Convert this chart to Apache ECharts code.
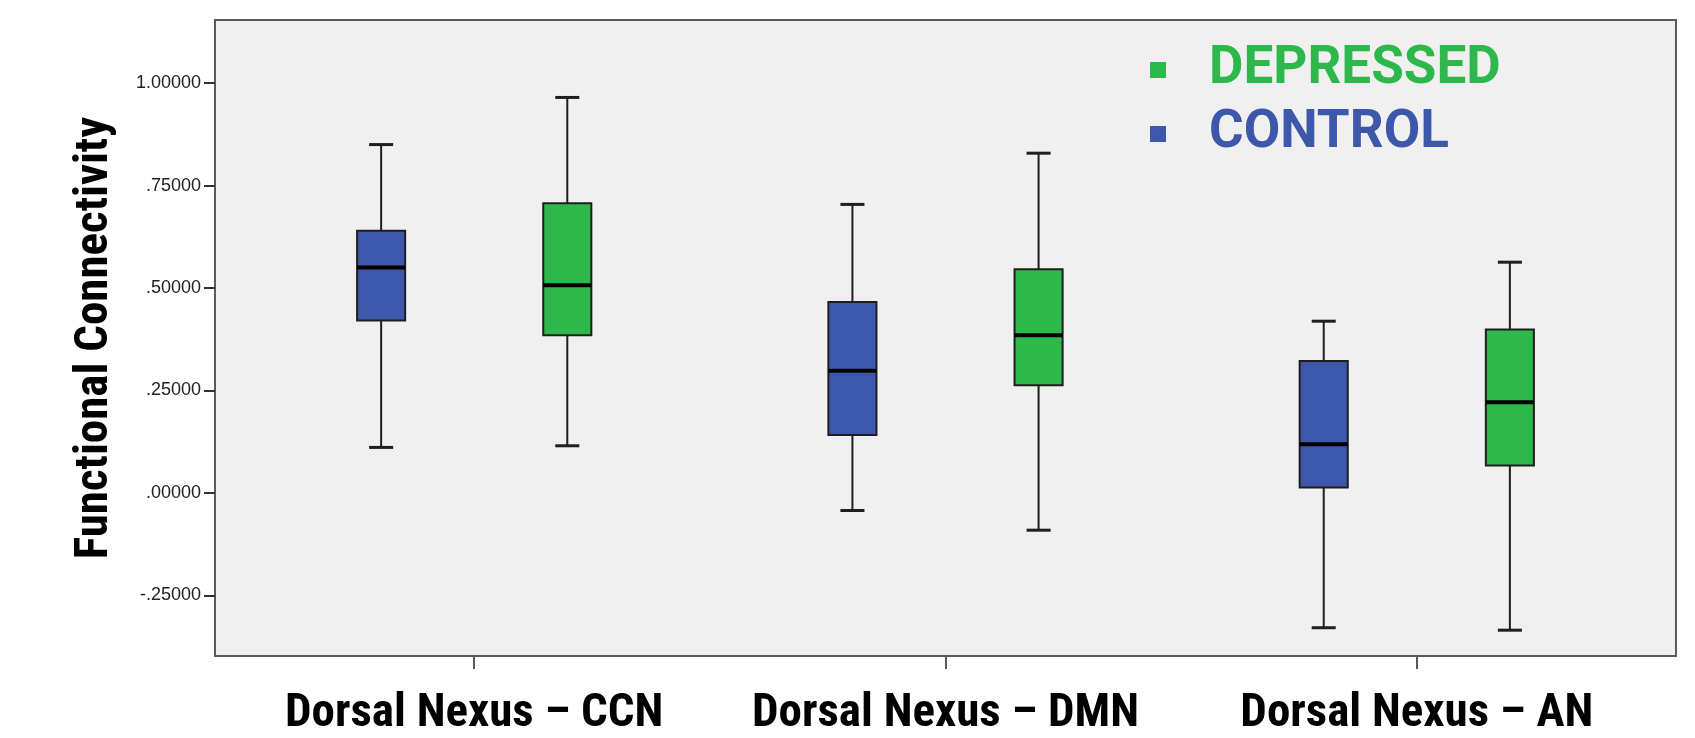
<!DOCTYPE html>
<html><head><meta charset="utf-8">
<script src="https://cdn.jsdelivr.net/npm/echarts@6/dist/echarts.min.js"></script>
<style>html,body{margin:0;padding:0;background:#fff}#c{width:1695px;height:738px}</style>
</head><body><div id="c"></div>
<script>
// Categories (x axis)
const categories = ['Dorsal Nexus \u2013 CCN', 'Dorsal Nexus \u2013 DMN', 'Dorsal Nexus \u2013 AN'];
// Box statistics per category: [min, Q1, median, Q3, max]
const controlStats = [
  [0.111, 0.421, 0.550, 0.640, 0.850],
  [-0.043, 0.141, 0.298, 0.466, 0.704],
  [-0.329, 0.013, 0.119, 0.322, 0.419]
];
const depressedStats = [
  [0.115, 0.385, 0.507, 0.707, 0.965],
  [-0.091, 0.263, 0.385, 0.546, 0.829],
  [-0.335, 0.067, 0.221, 0.399, 0.563]
];
// Y tick values
const yTicks = [-0.25, 0, 0.25, 0.5, 0.75, 1.0];
const seriesNames = ['CONTROL', 'DEPRESSED'];

const BLUE = '#3D57AA', GREEN = '#2EB84B';
const NARROW = '"Liberation Sans Narrow", "Roboto Condensed", "DejaVu Sans Condensed", sans-serif';

function toData(stats) {
  return stats.map((s, i) => [i].concat(s));
}
function makeRender(offset, color) {
  return function (params, api) {
    const x = api.value(0) + offset;
    const lo = api.coord([x, api.value(1)]);
    const q1 = api.coord([x, api.value(2)]);
    const md = api.coord([x, api.value(3)]);
    const q3 = api.coord([x, api.value(4)]);
    const hi = api.coord([x, api.value(5)]);
    const bw = api.size([0.102, 0])[0];
    const cw = api.size([0.051, 0])[0];
    const cx = md[0];
    const stroke = '#1e1e1e';
    return {
      type: 'group',
      children: [
        {type: 'line', shape: {x1: cx, y1: q3[1], x2: cx, y2: hi[1]}, style: {stroke: stroke, lineWidth: 2}},
        {type: 'line', shape: {x1: cx, y1: q1[1], x2: cx, y2: lo[1]}, style: {stroke: stroke, lineWidth: 2}},
        {type: 'line', shape: {x1: cx - cw / 2, y1: hi[1], x2: cx + cw / 2, y2: hi[1]}, style: {stroke: stroke, lineWidth: 3}},
        {type: 'line', shape: {x1: cx - cw / 2, y1: lo[1], x2: cx + cw / 2, y2: lo[1]}, style: {stroke: stroke, lineWidth: 3}},
        {type: 'rect', shape: {x: cx - bw / 2, y: q3[1], width: bw, height: q1[1] - q3[1]}, style: {fill: color, stroke: stroke, lineWidth: 2}},
        {type: 'line', shape: {x1: cx - bw / 2, y1: md[1], x2: cx + bw / 2, y2: md[1]}, style: {stroke: '#000', lineWidth: 4}}
      ]
    };
  };
}

const chart = echarts.init(document.getElementById('c'), null, {renderer: 'canvas'});
chart.setOption({
  animation: false,
  backgroundColor: '#fff',
  grid: {left: 215, top: 20, right: 19, bottom: 79, show: true, backgroundColor: '#F0F0F0', borderColor: '#5a5a5a', borderWidth: 2},
  legend: {
    orient: 'vertical', left: 1150, top: 42, padding: 0, itemGap: 8,
    itemWidth: 16, itemHeight: 16, icon: 'rect',
    itemStyle: {borderWidth: 0},
    textStyle: {fontFamily: 'Roboto', fontWeight: 'bold', fontSize: 53, lineHeight: 36, padding: [20, 0, 0, 38]},
    data: [
      {name: 'DEPRESSED', textStyle: {color: GREEN}},
      {name: 'CONTROL', textStyle: {color: BLUE}}
    ]
  },
  xAxis: {
    type: 'value', min: -0.55, max: 2.55,
    splitLine: {show: false},
    axisLine: {show: false, onZero: false},
    axisTick: {show: true, customValues: [0, 1, 2], length: 13, lineStyle: {color: '#5a5a5a', width: 2}},
    axisLabel: {
      customValues: [0, 1, 2], margin: 35,
      formatter: v => categories[Math.round(v)] || '',
      fontFamily: NARROW, fontWeight: 'bold', fontSize: 47, color: '#000'
    }
  },
  yAxis: {
    type: 'value', min: -0.398, max: 1.154,
    name: 'Functional Connectivity', nameLocation: 'middle', nameRotate: 90, nameGap: 96,
    nameTextStyle: {fontFamily: NARROW, fontWeight: 'bold', fontSize: 47, color: '#000'},
    splitLine: {show: false},
    axisLine: {show: false, onZero: false},
    axisTick: {show: true, customValues: yTicks, length: 11, lineStyle: {color: '#333', width: 2}},
    axisLabel: {
      customValues: yTicks, margin: 14,
      formatter: v => v.toFixed(5).replace(/^(-?)0\./, '$1.'),
      fontFamily: '"Liberation Sans", Arial, sans-serif', fontSize: 18, color: '#222'
    }
  },
  series: [
    {name: seriesNames[0], type: 'custom', itemStyle: {color: BLUE}, renderItem: makeRender(-0.1975, BLUE),
     encode: {x: 0, y: [1, 2, 3, 4, 5]}, data: toData(controlStats)},
    {name: 'DEPRESSED', type: 'custom', itemStyle: {color: GREEN}, renderItem: makeRender(0.1975, GREEN),
     encode: {x: 0, y: [1, 2, 3, 4, 5]}, data: toData(depressedStats)}
  ]
});
</script></body></html>
